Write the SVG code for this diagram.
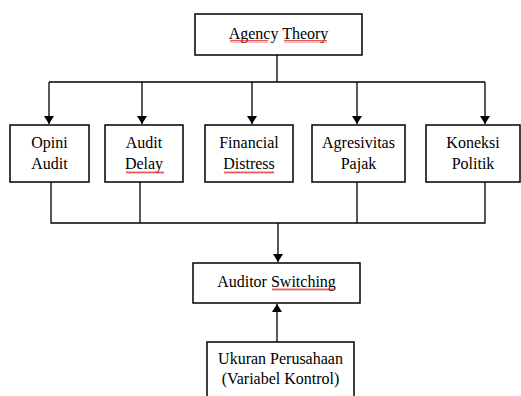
<svg xmlns="http://www.w3.org/2000/svg" width="521" height="396" viewBox="0 0 521 396">
<style>
.box{fill:#fff;stroke:#000;stroke-width:1.5}
.ln{fill:none;stroke:#000;stroke-width:1.3}
text{font-family:"Liberation Serif","Times New Roman",serif;font-size:16px;fill:#000;text-anchor:middle}
.sq{fill:none;stroke:#e03030;stroke-width:0.8}
</style>
<defs>
<marker id="ah" markerWidth="8" markerHeight="10" refX="8" refY="5" orient="auto" markerUnits="userSpaceOnUse">
<path d="M0,0 L8,5 L0,10 Z" fill="#000"/>
</marker>
<pattern id="wv" width="4" height="3" patternUnits="userSpaceOnUse">
<path d="M0,2.5 L1,0.5 L2,2.5 L3,0.5 L4,2.5" class="sq"/>
</pattern>
</defs>
<rect width="521" height="396" fill="#fff"/>
<g id="connectors">
<path class="ln" d="M277,55 V82 M49,82 H485"/>
<path class="ln" d="M49,82 V124" marker-end="url(#ah)"/>
<path class="ln" d="M142,82 V124" marker-end="url(#ah)"/>
<path class="ln" d="M252,82 V124" marker-end="url(#ah)"/>
<path class="ln" d="M357,82 V124" marker-end="url(#ah)"/>
<path class="ln" d="M485,82 V124" marker-end="url(#ah)"/>
<path class="ln" d="M51,182 V223 H485 V182 M140,182 V223 M357,182 V223"/>
<path class="ln" d="M278,223 V262" marker-end="url(#ah)"/>
<path class="ln" d="M277,342 V304" marker-end="url(#ah)"/>
</g>
<g id="agency">
<rect class="box" x="195" y="14" width="167" height="41"/>
<text x="278.5" y="39">Agency Theory</text>
<rect x="230" y="40" width="38" height="3" fill="url(#wv)"/>
<rect x="284" y="40" width="43" height="3" fill="url(#wv)"/>
</g>
<g id="opini">
<rect class="box" x="10" y="125" width="79" height="57"/>
<text x="49.5" y="148">Opini</text>
<text x="49.5" y="169">Audit</text>
</g>
<g id="delay">
<rect class="box" x="105" y="125" width="78" height="57"/>
<text x="144" y="148">Audit</text>
<text x="144" y="169">Delay</text>
<rect x="126" y="171" width="38" height="3" fill="url(#wv)"/>
</g>
<g id="financial">
<rect class="box" x="205" y="125" width="88" height="57"/>
<text x="249" y="148">Financial</text>
<text x="249" y="169">Distress</text>
<rect x="224" y="171" width="50" height="3" fill="url(#wv)"/>
</g>
<g id="agresivitas">
<rect class="box" x="312" y="125" width="93" height="57"/>
<text x="358.5" y="148">Agresivitas</text>
<text x="358.5" y="169">Pajak</text>
</g>
<g id="koneksi">
<rect class="box" x="426" y="125" width="94" height="57"/>
<text x="473" y="148">Koneksi</text>
<text x="473" y="169">Politik</text>
</g>
<g id="auditor">
<rect class="box" x="193" y="263" width="167" height="40"/>
<text x="276.5" y="287">Auditor Switching</text>
<rect x="272" y="288" width="62" height="3" fill="url(#wv)"/>
</g>
<g id="ukuran">
<rect class="box" x="207" y="342" width="147" height="60"/>
<text x="280.5" y="364">Ukuran Perusahaan</text>
<text x="280.5" y="384">(Variabel Kontrol)</text>
</g>
</svg>
